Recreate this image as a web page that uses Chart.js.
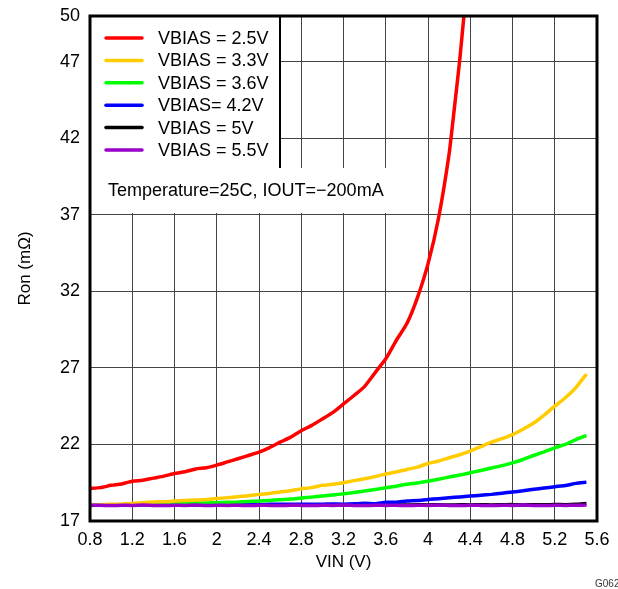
<!DOCTYPE html>
<html lang="en">
<head>
  <meta charset="UTF-8">
  <title>Ron vs VIN</title>
  <script src="https://cdn.jsdelivr.net/npm/chart.js"></script>
  <style>
    body { margin: 0; background: #fff; }
    #wrap { width: 618px; height: 589px; }
  </style>
</head>
<body>
  <div id="wrap"><canvas id="ronChart" width="618" height="589"></canvas></div>
  <script>
    // series names and colours
    const seriesNames = ['VBIAS = 2.5V', 'VBIAS = 3.3V', 'VBIAS = 3.6V', 'VBIAS= 4.2V', 'VBIAS = 5V', 'VBIAS = 5.5V'];
    const seriesColors = ['#ff0000', '#ffcc00', '#00ff00', '#0000ff', '#000000', '#9900cc'];

    // axis ticks
    const xTicks = [0.8, 1.2, 1.6, 2.0, 2.4, 2.8, 3.2, 3.6, 4.0, 4.4, 4.8, 5.2, 5.6];
    const yTicks = [17, 22, 27, 32, 37, 42, 47, 50];

    // VIN sweep (V)
    const vin = [0.8, 0.9, 1.0, 1.1, 1.2, 1.3, 1.4, 1.5, 1.6, 1.7, 1.8, 1.9, 2.0, 2.1, 2.2, 2.3,
                 2.4, 2.5, 2.6, 2.7, 2.8, 2.9, 3.0, 3.1, 3.2, 3.3, 3.4, 3.5, 3.6, 3.7, 3.8, 3.9,
                 4.0, 4.1, 4.2, 4.3, 4.4, 4.5, 4.6, 4.7, 4.8, 4.9, 5.0, 5.1, 5.2, 5.3, 5.4, 5.5];
    const vinRed = [0.8, 0.9, 1.0, 1.1, 1.2, 1.3, 1.4, 1.5, 1.6, 1.7, 1.8, 1.9, 2.0, 2.1, 2.2, 2.3,
                    2.4, 2.5, 2.6, 2.7, 2.8, 2.9, 3.0, 3.1, 3.2, 3.3, 3.4, 3.5, 3.6, 3.7, 3.8, 3.9,
                    4.0, 4.1, 4.2, 4.25, 4.3, 4.34];

    // Ron (mOhm) per VBIAS
    const ron25 = [19.13, 19.18, 19.33, 19.42, 19.6, 19.66, 19.8, 19.93, 20.1, 20.22, 20.4, 20.48, 20.65, 20.86, 21.07, 21.28,
                   21.5, 21.8, 22.15, 22.48, 22.9, 23.25, 23.67, 24.1, 24.65, 25.2, 25.8, 26.7, 27.6, 28.8, 29.9, 31.6,
                   33.8, 36.8, 41.0, 44.0, 47.1, 50.0];
    const ron33 = [18.04, 18.06, 18.09, 18.11, 18.15, 18.2, 18.24, 18.26, 18.3, 18.34, 18.37, 18.4, 18.47, 18.52, 18.59, 18.65,
                   18.74, 18.8, 18.9, 18.98, 19.1, 19.18, 19.33, 19.4, 19.5, 19.64, 19.76, 19.9, 20.07, 20.2, 20.37, 20.52,
                   20.76, 20.92, 21.13, 21.33, 21.57, 21.86, 22.15, 22.38, 22.65, 23.0, 23.4, 23.92, 24.5, 25.05, 25.72, 26.6];
    const ron36 = [18.02, 18.03, 18.04, 18.05, 18.06, 18.07, 18.09, 18.1, 18.13, 18.14, 18.17, 18.18, 18.2, 18.22, 18.24, 18.28,
                   18.3, 18.34, 18.39, 18.43, 18.5, 18.56, 18.63, 18.7, 18.78, 18.86, 18.96, 19.06, 19.17, 19.27, 19.4, 19.49,
                   19.6, 19.73, 19.87, 20.0, 20.15, 20.3, 20.46, 20.62, 20.8, 21.02, 21.28, 21.52, 21.78, 22.0, 22.32, 22.6];
    const ron42 = [18.03, 18.05, 18.06, 18.05, 18.07, 18.06, 18.08, 18.07, 18.08, 18.07, 18.09, 18.08, 18.08, 18.09, 18.08, 18.09,
                   18.08, 18.09, 18.1, 18.09, 18.1, 18.09, 18.1, 18.11, 18.1, 18.12, 18.16, 18.12, 18.22, 18.23, 18.3, 18.34,
                   18.41, 18.46, 18.52, 18.57, 18.63, 18.68, 18.74, 18.82, 18.89, 18.97, 19.07, 19.15, 19.24, 19.32, 19.46, 19.54];
    const ron50 = [18.05, 18.04, 18.06, 18.05, 18.04, 18.06, 18.05, 18.03, 18.05, 18.06, 18.04, 18.05, 18.06, 18.04, 18.05, 18.03,
                   18.05, 18.04, 18.06, 18.05, 18.03, 18.05, 18.06, 18.04, 18.05, 18.06, 18.04, 18.05, 18.06, 18.05, 18.04, 18.06,
                   18.05, 18.06, 18.04, 18.06, 18.05, 18.07, 18.05, 18.06, 18.07, 18.05, 18.07, 18.06, 18.08, 18.07, 18.09, 18.15];
    const ron55 = [18.02, 18.03, 18.01, 18.03, 18.02, 18.04, 18.02, 18.01, 18.03, 18.02, 18.04, 18.01, 18.03, 18.02, 18.03, 18.01,
                   18.03, 18.02, 18.01, 18.03, 18.02, 18.01, 18.03, 18.02, 18.04, 18.02, 18.01, 18.03, 18.02, 18.03, 18.01, 18.03,
                   18.02, 18.04, 18.02, 18.01, 18.03, 18.02, 18.01, 18.03, 18.02, 18.04, 18.02, 18.01, 18.03, 18.02, 18.03, 18.04];

    const seriesX = [vinRed, vin, vin, vin, vin, vin];
    const seriesY = [ron25, ron33, ron36, ron42, ron50, ron55];
    const drawOrder = [1, 2, 3, 4, 5, 0];

    const datasets = seriesNames.map((name, i) => ({
      label: name,
      data: seriesX[i].map((x, j) => ({ x: x, y: seriesY[i][j] })),
      borderColor: seriesColors[i],
      borderWidth: 3.5,
      pointRadius: 0,
      tension: 0.2,
      fill: false,
      order: drawOrder[i]
    }));

    // legend + annotation boxes, frame, figure id
    const boxesPlugin = {
      id: 'boxes',
      beforeDatasetsDraw(chart) {
        const ctx = chart.ctx;
        const a = chart.chartArea;
        ctx.save();
        ctx.fillStyle = '#fff';
        ctx.fillRect(a.left, a.top, 280 - a.left, 168 - a.top);
        ctx.fillRect(a.left, 168, 412 - a.left, 45);
        ctx.strokeStyle = '#000';
        ctx.lineWidth = 2;
        ctx.beginPath();
        ctx.moveTo(280, a.top);
        ctx.lineTo(280, 168);
        ctx.stroke();

        ctx.font = '18px "Liberation Sans", Arial, sans-serif';
        ctx.textBaseline = 'middle';
        seriesNames.forEach((name, i) => {
          const y = 38 + i * 22.4;
          ctx.strokeStyle = seriesColors[i];
          ctx.lineWidth = 3.5;
          ctx.lineCap = 'round';
          ctx.beginPath();
          ctx.moveTo(106, y);
          ctx.lineTo(142, y);
          ctx.stroke();
          ctx.fillStyle = '#000';
          ctx.fillText(name, 158, y + 1);
        });
        ctx.fillText('Temperature=25C, IOUT=\u2212200mA', 108, 191);
        ctx.restore();
      },
      afterDraw(chart) {
        const ctx = chart.ctx;
        const a = chart.chartArea;
        ctx.save();
        ctx.strokeStyle = '#000';
        ctx.lineWidth = 3;
        ctx.strokeRect(a.left, a.top, a.right - a.left, a.bottom - a.top);
        ctx.fillStyle = '#333';
        ctx.font = '10px "Liberation Sans", Arial, sans-serif';
        ctx.textBaseline = 'middle';
        ctx.fillText('G062', 595, 584);
        ctx.restore();
      }
    };

    const tickFont = { family: '"Liberation Sans", Arial, sans-serif', size: 18 };

    new Chart(document.getElementById('ronChart'), {
      type: 'line',
      data: { datasets: datasets },
      options: {
        responsive: false,
        animation: false,
        layout: { padding: { left: 0, top: 16, right: 21, bottom: 0 } },
        plugins: { legend: { display: false }, tooltip: { enabled: false } },
        scales: {
          x: {
            type: 'linear',
            min: 0.8,
            max: 5.6,
            afterBuildTicks: s => { s.ticks = xTicks.map(v => ({ value: v })); },
            afterFit: s => { s.height = 68; s.paddingLeft = 0; s.paddingRight = 0; },
            grid: { color: '#444', lineWidth: 1, drawTicks: false },
            border: { display: false },
            ticks: {
              color: '#000',
              font: tickFont,
              padding: 8,
              maxRotation: 0,
              autoSkip: false,
              callback: v => String(Number(v.toFixed(1)))
            },
            title: {
              display: true,
              text: 'VIN (V)',
              color: '#000',
              font: { family: '"Liberation Sans", Arial, sans-serif', size: 17 },
              padding: { top: 0, bottom: 16 }
            }
          },
          y: {
            type: 'linear',
            min: 17,
            max: 50,
            afterBuildTicks: s => { s.ticks = yTicks.map(v => ({ value: v })); },
            afterFit: s => { s.width = 90; s.paddingTop = 0; s.paddingBottom = 0; },
            grid: { color: '#444', lineWidth: 1, drawTicks: false },
            border: { display: false },
            ticks: { color: '#000', font: tickFont, padding: 10, autoSkip: false },
            title: {
              display: true,
              text: 'Ron (m\u03a9)',
              color: '#000',
              font: { family: '"Liberation Sans", Arial, sans-serif', size: 17 },
              padding: { top: 15, bottom: 0 }
            }
          }
        }
      },
      plugins: [boxesPlugin]
    });
  </script>
</body>
</html>
